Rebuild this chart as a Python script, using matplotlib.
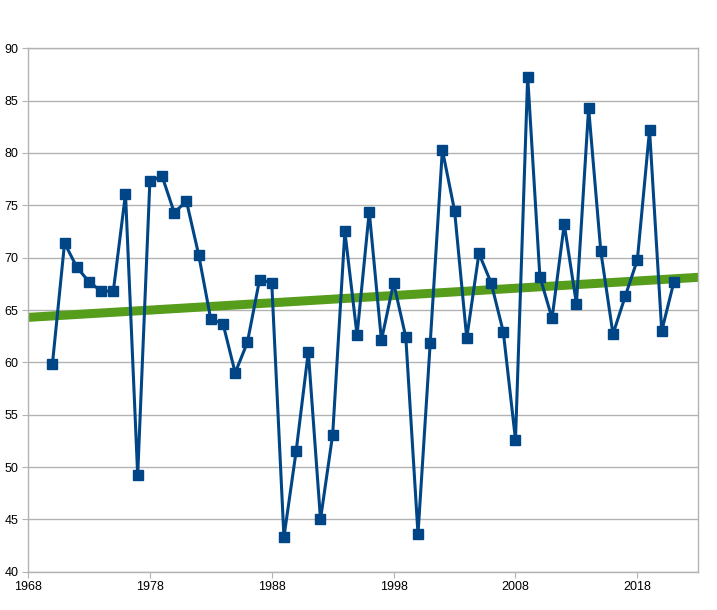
import matplotlib.pyplot as plt
import numpy as np

plt.rcParams['font.family'] = ['Liberation Sans', 'DejaVu Sans']

years = list(range(1970, 2022))
values = [59.8, 71.4, 69.1, 67.7, 66.8, 66.8, 76.1, 49.2, 77.3, 77.8,
          74.3, 75.4, 70.3, 64.1, 63.7, 59.0, 61.9, 67.9, 67.6, 43.3,
          51.5, 61.0, 45.0, 53.1, 72.5, 62.6, 74.4, 62.1, 67.6, 62.4,
          43.6, 61.8, 80.3, 74.5, 62.3, 70.4, 67.6, 62.9, 52.6, 87.3,
          68.2, 64.2, 73.2, 65.6, 84.3, 70.6, 62.7, 66.3, 69.8, 82.2,
          63.0, 67.7]
xticks = [1968, 1978, 1988, 1998, 2008, 2018]
yticks = [40, 45, 50, 55, 60, 65, 70, 75, 80, 85, 90]

x = np.array(years)
y = np.array(values)

fig = plt.figure(figsize=(7.17, 6.10), dpi=100)
ax = fig.add_axes([28 / 717, 38.3 / 610, 670.3 / 717, 523.4 / 610])

# linear trend across the full axis
k, b = np.polyfit(x, y, 1)
tx = np.array([1968, 2023])
ax.plot(tx, k * tx + b, color='#579d1c', lw=6.5, solid_capstyle='butt', zorder=2)

ax.plot(x, y, color='#004586', lw=2.2, marker='s', markersize=7,
        markerfacecolor='#004586', markeredgecolor='#004586', zorder=3)

ax.set_xlim(1968, 2023)
ax.set_ylim(40, 90)
ax.set_xticks(xticks)
ax.set_yticks(yticks)
ax.grid(axis='y', color='#b3b3b3', lw=1)
ax.set_axisbelow(True)
for s in ax.spines.values():
    s.set_color('#b3b3b3')
    s.set_linewidth(1)
ax.tick_params(axis='both', direction='out', length=4, color='#b3b3b3',
               labelsize=9, labelcolor='black', pad=3)

fig.savefig('out.png', dpi=100)
